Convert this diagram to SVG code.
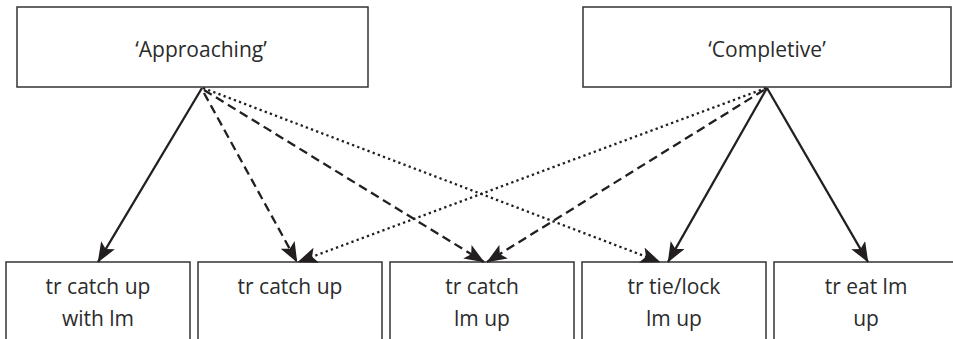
<svg xmlns="http://www.w3.org/2000/svg" width="953" height="339" viewBox="0 0 953 339">
  <style>
    .box { fill: #ffffff; stroke: #333333; stroke-width: 1.5; }
    .lbl { font-family: "Open Sans", Lato, sans-serif; font-size: 21px; fill: #2b2b2b; text-anchor: middle; }
    .edge { fill: none; stroke: #231f20; stroke-width: 2.3; }
    .dashed { stroke-dasharray: 9 5; }
    .dotted { stroke-dasharray: 2.3 3.2; }
  </style>
  <defs>
    <marker id="head" viewBox="0 0 20 16" refX="19.5" refY="8" markerWidth="20" markerHeight="16" markerUnits="userSpaceOnUse" orient="auto">
      <path d="M0,0 L20,8 L0,16 L4.5,8 Z" fill="#231f20"/>
    </marker>
  </defs>
  <rect width="953" height="339" fill="#ffffff"/>

  <g id="approaching">
    <rect class="box" x="17" y="7" width="351" height="80"/>
    <text class="lbl" x="201" y="57">‘Approaching’</text>
  </g>
  <g id="completive">
    <rect class="box" x="583" y="7" width="368" height="80"/>
    <text class="lbl" x="767" y="57">‘Completive’</text>
  </g>

  <g id="catch-up-with">
    <rect class="box" x="6" y="262" width="184" height="90"/>
    <text class="lbl" x="98" y="294">tr catch up</text>
    <text class="lbl" x="98" y="326">with lm</text>
  </g>
  <g id="catch-up">
    <rect class="box" x="198" y="262" width="184" height="90"/>
    <text class="lbl" x="290" y="294">tr catch up</text>
  </g>
  <g id="catch-lm-up">
    <rect class="box" x="390" y="262" width="184" height="90"/>
    <text class="lbl" x="482" y="294">tr catch</text>
    <text class="lbl" x="482" y="326">lm up</text>
  </g>
  <g id="tie-lock">
    <rect class="box" x="582" y="262" width="184" height="90"/>
    <text class="lbl" x="674" y="294">tr tie/lock</text>
    <text class="lbl" x="674" y="326">lm up</text>
  </g>
  <g id="eat-up">
    <rect class="box" x="774" y="262" width="184" height="90"/>
    <text class="lbl" x="866" y="294">tr eat lm</text>
    <text class="lbl" x="866" y="326">up</text>
  </g>

  <g id="connectors">
    <!-- from 'Approaching' -->
    <line class="edge" x1="202" y1="88" x2="98" y2="262" marker-end="url(#head)"/>
    <line class="edge dashed" x1="204" y1="93" x2="297" y2="262" marker-end="url(#head)"/>
    <line class="edge dashed" x1="204" y1="90" x2="484" y2="262" marker-end="url(#head)"/>
    <line class="edge dotted" x1="203" y1="88" x2="660" y2="262" marker-end="url(#head)"/>
    <!-- from 'Completive' -->
    <line class="edge dotted" x1="766" y1="88" x2="298" y2="262" marker-end="url(#head)"/>
    <line class="edge dashed" x1="764" y1="90" x2="487" y2="262" marker-end="url(#head)"/>
    <line class="edge" x1="767" y1="88" x2="668" y2="262" marker-end="url(#head)"/>
    <line class="edge" x1="767" y1="88" x2="868" y2="262" marker-end="url(#head)"/>
  </g>
</svg>
